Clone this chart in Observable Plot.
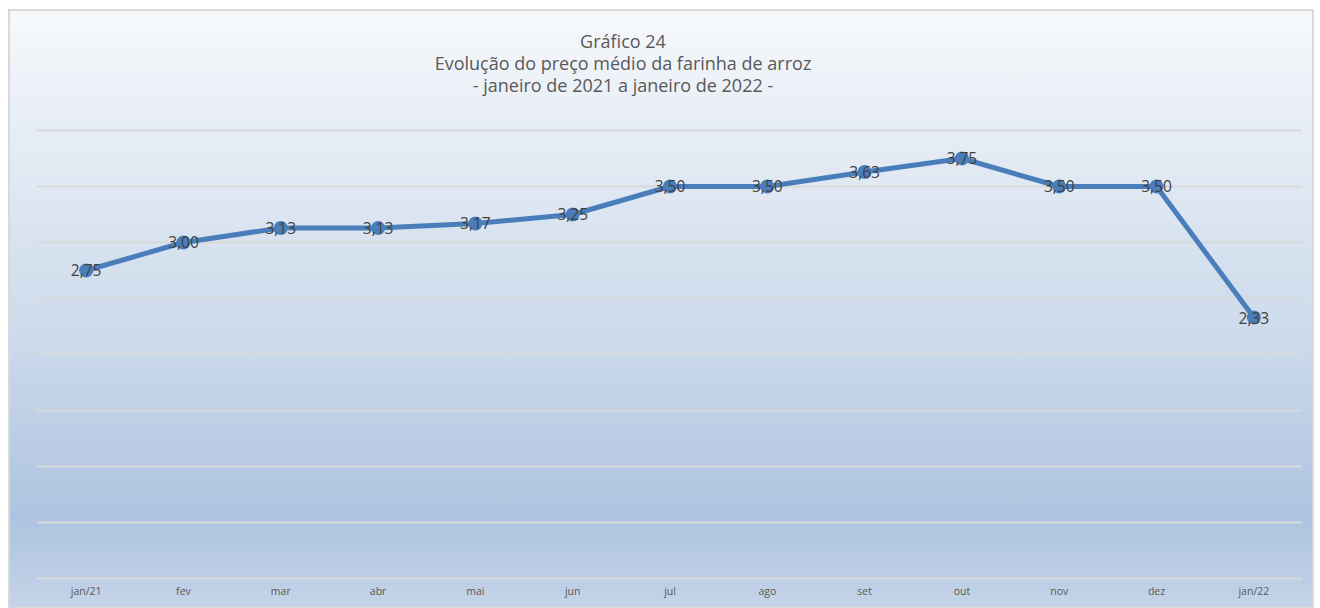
<!DOCTYPE html>
<html>
<head>
<meta charset="utf-8">
<script src="https://cdn.jsdelivr.net/npm/d3@7"></script>
<script src="https://cdn.jsdelivr.net/npm/@observablehq/plot@0.6"></script>
<style>
  html, body { margin: 0; padding: 0; background: #ffffff; }
  #wrap { position: relative; width: 1320px; height: 608px; overflow: hidden; font-family: "Open Sans", "Noto Sans", sans-serif; }
  #bg { position: absolute; left: 8px; top: 9px; width: 1302px; height: 596px; border: 2px solid #d9d9d9;
        background: linear-gradient(to bottom, #f6f9fc 0%, #e3eaf4 25%, #ccdaeb 55%, #adc3df 85%, #c4d4e8 100%); }
  #title { position: absolute; left: 323px; top: 30px; width: 600px; text-align: center; color: #595959; font-size: 18px; line-height: 22px; }
  #chart { position: absolute; left: 0; top: 0; }
  #chart svg { background: transparent; }
</style>
</head>
<body>
<div id="wrap">
  <div id="bg"></div>
  <div id="title">Gráfico 24<br>Evolução do preço médio da farinha de arroz<br>- janeiro de 2021 a janeiro de 2022 -</div>
  <div id="chart"></div>
</div>
<script>
const months = ["jan/21","fev","mar","abr","mai","jun","jul","ago","set","out","nov","dez","jan/22"];
const prices = [2.75, 3.00, 3.13, 3.13, 3.17, 3.25, 3.50, 3.50, 3.63, 3.75, 3.50, 3.50, 2.33];
const gridTicks = [0, 0.5, 1, 1.5, 2, 2.5, 3, 3.5, 4];

const data = months.map((m, i) => ({month: m, price: prices[i]}));
const fmt = v => v.toFixed(2).replace(".", ",");

const chart = Plot.plot({
  width: 1320,
  height: 608,
  marginLeft: 37,
  marginRight: 18,
  marginTop: 130,
  marginBottom: 30,
  style: {background: "transparent", fontFamily: "'Open Sans', 'Noto Sans', sans-serif"},
  x: {type: "point", domain: months, padding: 0.5, round: false, label: null},
  y: {domain: [0, 4], label: null, axis: null},
  marks: [
    Plot.ruleY(gridTicks, {stroke: "#d9d9d9", strokeWidth: 2}),
    Plot.axisX({tickSize: 0, tickPadding: 9, fontSize: 10.5, color: "#595959", label: null}),
    Plot.line(data, {x: "month", y: "price", stroke: "#4a7ebb", strokeWidth: 5, curve: "linear"}),
    Plot.dot(data, {x: "month", y: "price", r: 7, fill: "#4a7ebb", stroke: null}),
    Plot.text(data, {x: "month", y: "price", text: d => fmt(d.price), fill: "#404040", fontSize: 15.5, dy: 1})
  ]
});
document.getElementById("chart").appendChild(chart);
</script>
</body>
</html>
